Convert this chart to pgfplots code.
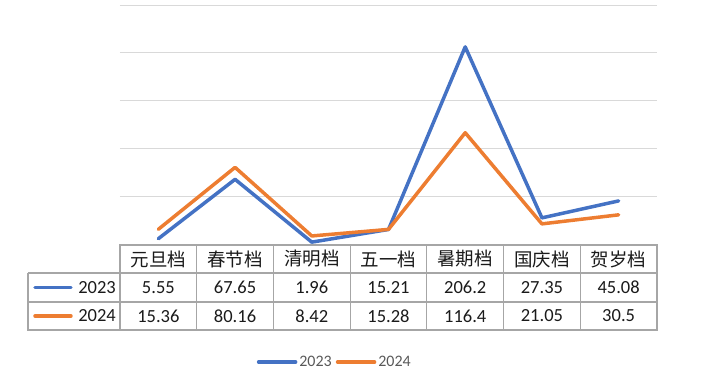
\documentclass[border=0pt]{standalone}
\usepackage{pgfplots}
\pgfplotsset{compat=1.18}
\usetikzlibrary{calc}
\usepackage{fontspec}
\setmainfont{Carlito}
\newfontfamily\cjk{Noto Sans CJK SC}
\definecolor{cblue}{HTML}{4472C4}
\definecolor{corange}{HTML}{ED7D31}
\definecolor{gridc}{HTML}{D9D9D9}
\definecolor{tabc}{HTML}{A6A6A6}
\definecolor{txt}{HTML}{1A1A1A}
\definecolor{legtxt}{HTML}{595959}
\begin{document}
\begin{tikzpicture}[x=1pt,y=1pt]
\begin{axis}[
  name=ax,
  scale only axis, width=537pt, height=239pt,
  xmin=-0.5, xmax=6.5, ymin=0, ymax=250,
  ytick={0,50,100,150,200,250},
  xtick=\empty, yticklabels={}, 
  major tick length=0pt,
  ymajorgrids, grid style={gridc, line width=1pt},
  axis line style={draw=none},
  clip=false,
  legend style={at={(0.4,-0.494)}, anchor=center, draw=none, fill=none,
    legend columns=2, font=\fontsize{16}{18}\selectfont\color{legtxt},
    /tikz/every even column/.append style={column sep=2pt},
    inner sep=0pt},
  legend image code/.code={\draw[#1, line width=3.5pt, line cap=round] (1.5pt,0pt) -- (38.5pt,0pt);},
]
\addplot[cblue, line width=3.5pt, line cap=round, line join=round] coordinates {
 (0,5.55) (1,67.65) (2,1.96) (3,15.21) (4,206.2) (5,27.35) (6,45.08)};
\addlegendentry{2023}
\addplot[corange, line width=3.5pt, line cap=round, line join=round] coordinates {
 (0,15.36) (1,80.16) (2,8.42) (3,15.28) (4,116.4) (5,21.05) (6,30.5)};
\addlegendentry{2024}
\coordinate (SW) at (rel axis cs:0,0);
\end{axis}
\begin{scope}[shift={($(SW)+(-120,-129)$)}]
\path (0,0) rectangle (702,373);
% data table
\begin{scope}[tabc, line width=1.2pt]
  \draw (120,128) rectangle (657,43);
  \draw (28,71) -- (657,71);
  \draw (28,100) -- (657,100);
  \draw (28,100) -- (28,43) -- (120,43);
  \foreach \i in {1,...,6} { \draw ({120+76.714*\i},128) -- ({120+76.714*\i},43); }
\end{scope}
\begin{scope}[font=\fontsize{18.5}{20}\selectfont, text=txt]
  \foreach \c [count=\i from 0] in {元旦档,春节档,清明档,五一档,暑期档,国庆档,贺岁档}
    { \node at ({158.36+76.714*\i},114) {\cjk \c}; }
  \foreach \v [count=\i from 0] in {5.55,67.65,1.96,15.21,206.2,27.35,45.08}
    { \node at ({158.36+76.714*\i},85.5) {\v}; }
  \foreach \v [count=\i from 0] in {15.36,80.16,8.42,15.28,116.4,21.05,30.5}
    { \node at ({158.36+76.714*\i},57) {\v}; }
  \node[anchor=east, inner sep=0pt] at (116,85.5) {2023};
  \node[anchor=east, inner sep=0pt] at (116,57) {2024};
\end{scope}
\draw[cblue, line width=3.5pt, line cap=round] (35,85.5) -- (71,85.5);
\draw[corange, line width=3.5pt, line cap=round] (35,57) -- (71,57);
\end{scope}
\end{tikzpicture}
\end{document}
